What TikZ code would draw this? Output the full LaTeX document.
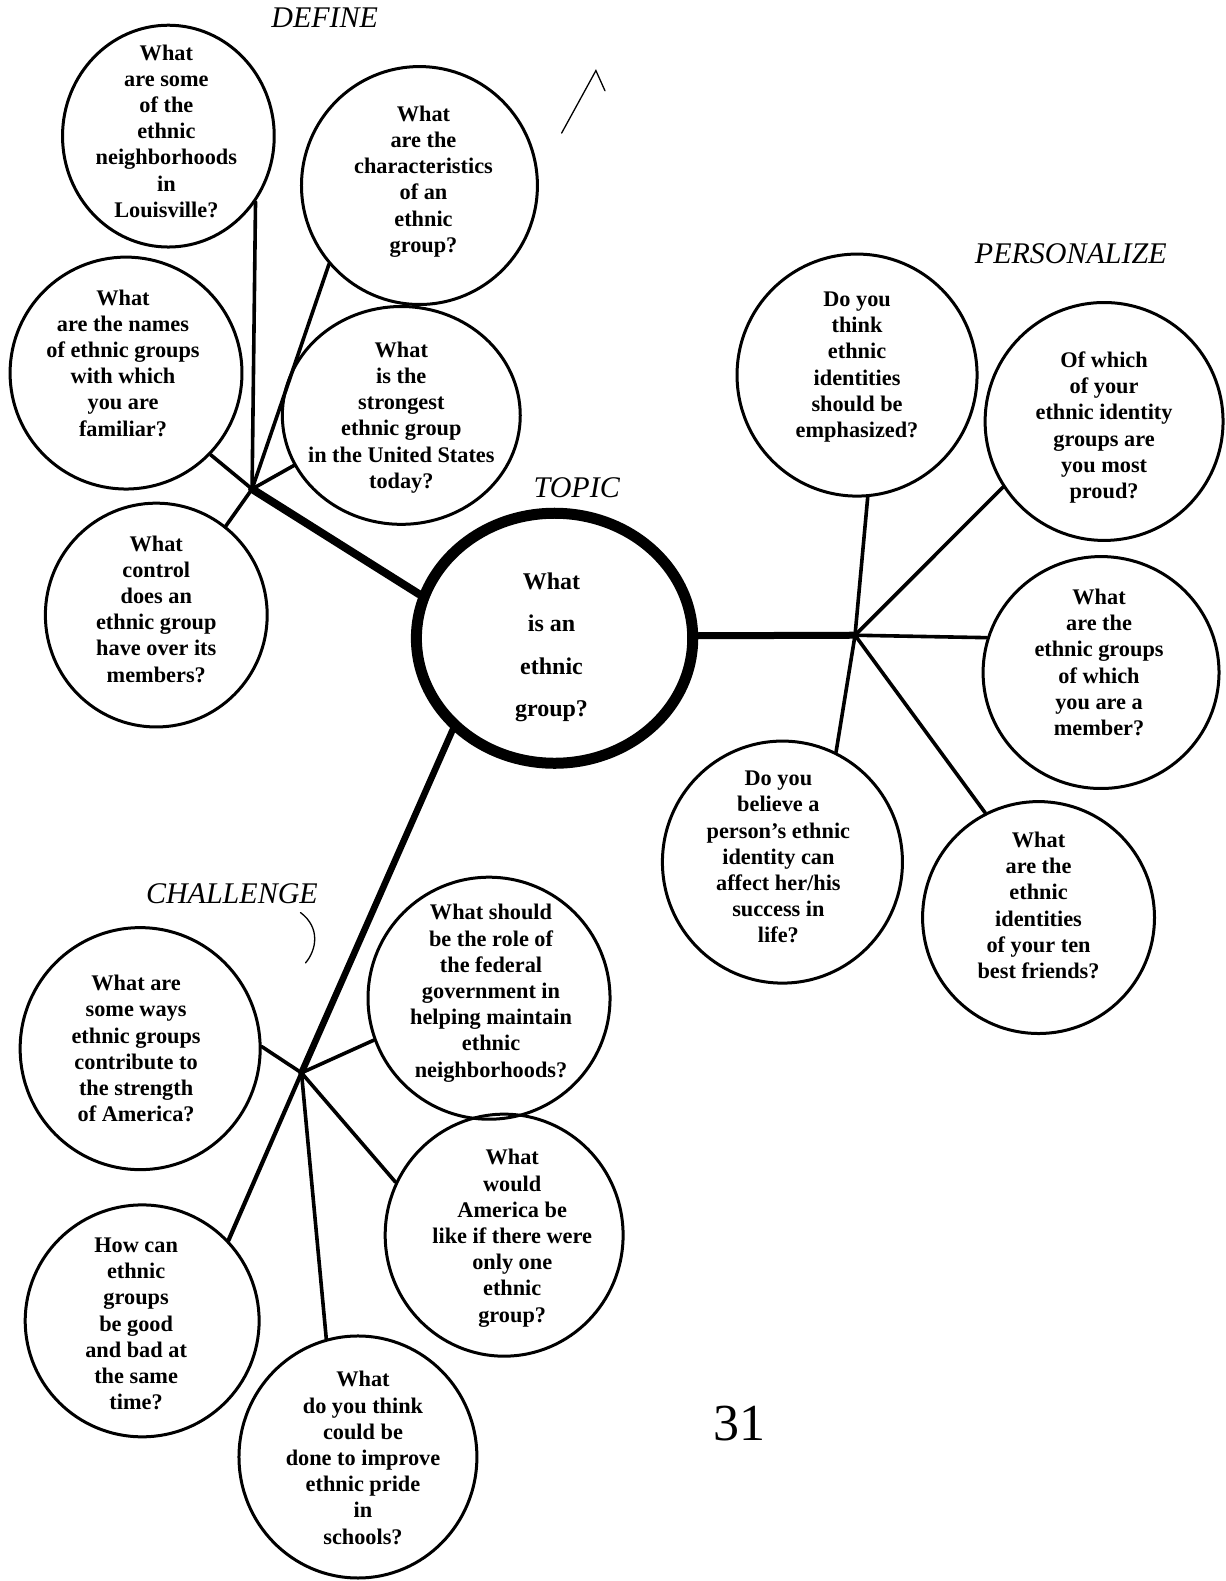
\documentclass[tikz,border=0pt]{standalone}
\usepackage{fontspec}
\setmainfont{Liberation Serif}
\usetikzlibrary{shapes.geometric}
\begin{document}
\begin{tikzpicture}[x=1.00823pt,y=-1.00823pt,
  bub/.style={draw,ellipse,line width=3pt,inner sep=0pt},
  topicbub/.style={draw,ellipse,line width=11pt,inner sep=0pt},
  qtext/.style={align=center,font=\bfseries\fontsize{22.3}{26.2}\selectfont,inner sep=0pt},
  ttext/.style={align=center,font=\bfseries\fontsize{24}{42.3}\selectfont,inner sep=0pt},
  lbl/.style={font=\itshape\fontsize{30}{36}\selectfont,inner sep=0pt},
  conn/.style={line width=3.6pt,line cap=round},
  thickconn/.style={line width=8pt,line cap=round},
  pencil/.style={line width=1.3pt,line cap=round}]
\useasboundingbox (0,0) rectangle (1215,1568);

% hubs
\coordinate (hD) at (250,485);
\coordinate (hP) at (848,630);
\coordinate (hC) at (299,1064);

% bubbles
\node[bub,minimum width=211.7pt,minimum height=221.8pt] (c1) at (167,135) {};
\node[bub,minimum width=235.9pt,minimum height=237.9pt] (c2) at (416,184) {};
\node[bub,minimum width=231.9pt,minimum height=231.9pt] (c3) at (125,370) {};
\node[bub,minimum width=237.9pt,minimum height=217.8pt] (c4) at (398,412) {};
\node[bub,minimum width=221.8pt,minimum height=223.8pt] (c5) at (155,610) {};
\node[topicbub,minimum width=276.3pt,minimum height=250.0pt] (T) at (550,633) {};
\node[bub,minimum width=240.0pt,minimum height=242.0pt] (c7) at (850,372) {};
\node[bub,minimum width=237.9pt,minimum height=237.9pt] (c8) at (1095,418) {};
\node[bub,minimum width=235.9pt,minimum height=231.9pt] (c9) at (1092,667) {};
\node[bub,minimum width=240.0pt,minimum height=242.0pt] (c10) at (776,855) {};
\node[bub,minimum width=231.9pt,minimum height=231.9pt] (c11) at (1030,910) {};
\node[bub,minimum width=242.0pt,minimum height=242.0pt] (c12) at (485,990) {};
\node[bub,minimum width=240.0pt,minimum height=242.0pt] (c13) at (139,1040) {};
\node[bub,minimum width=237.9pt,minimum height=242.0pt] (c14) at (500,1225) {};
\node[bub,minimum width=233.9pt,minimum height=231.9pt] (c15) at (141,1310) {};
\node[bub,minimum width=237.9pt,minimum height=242.0pt] (c16) at (355,1445) {};

% connectors: DEFINE
\draw[thickconn] (hD) -- (T.162);
\draw[conn] (hD) -- (c1.-37);
\draw[conn] (hD) -- (c2.221);
\draw[conn] (hD) -- (c3.-44);
\draw[conn] (hD) -- (c4.205);
\draw[conn] (hD) -- (c5.52);
% PERSONALIZE
\draw[line width=7pt,line cap=round] (T.1) -- (hP);
\draw[conn] (hP) -- (c7.-85);
\draw[conn] (hP) -- (c8.213);
\draw[conn] (hP) -- (c9.163);
\draw[conn] (hP) -- (c10.64);
\draw[conn] (hP) -- (c11.117);
% CHALLENGE
\draw[line width=6.5pt,line cap=round] (T.222) -- (hC);
\draw[line width=4.2pt,line cap=round] (hC) -- (c15.43);
\draw[conn] (hC) -- (c12.200);
\draw[conn] (hC) -- (c13.1);
\draw[conn] (hC) -- (c14.154);
\draw[conn] (hC) -- (c16.105);

% texts
\node[qtext] (t1) at (165,130) {What\\are some\\of the\\ethnic\\neighborhoods\\in\\Louisville?};
\node[qtext] (t2) at (420,180) {What\\are the\\characteristics\\of an\\ethnic\\group?};
\node[qtext] (t3) at (122,360) {What\\are the names\\of ethnic groups\\with which\\you are\\familiar?};
\node[qtext] (t4) at (398,414) {What\\is the\\strongest\\ethnic group\\in the United States\\today?};
\node[qtext] (t5) at (155,604) {What\\control\\does an\\ethnic group\\have over its\\members?};
\node[ttext] (tT) at (547,642) {What\\is an\\ethnic\\group?};
\node[qtext] (t7) at (850,364) {Do you\\think\\ethnic\\identities\\should be\\emphasized?};
\node[qtext] (t8) at (1095,424) {Of which\\of your\\ethnic identity\\groups are\\you most\\proud?};
\node[qtext] (t9) at (1090,657) {What\\are the\\ethnic groups\\of which\\you are a\\member?};
\node[qtext] (t10) at (772,850) {Do you\\believe a\\person's ethnic\\identity can\\affect her/his\\success in\\life?};
\node[qtext] (t11) at (1030,898) {What\\are the\\ethnic\\identities\\of your ten\\best friends?};
\node[qtext] (t12) at (487,985) {What should\\be the role of\\the federal\\government in\\helping maintain\\ethnic\\neighborhoods?};
\node[qtext] (t13) at (135,1040) {What are\\some ways\\ethnic groups\\contribute to\\the strength\\of America?};
\node[qtext] (t14) at (508,1228) {What\\would\\America be\\like if there were\\only one\\ethnic\\group?};
\node[qtext] (t15) at (135,1313) {How can\\ethnic\\groups\\be good\\and bad at\\the same\\time?};
\node[qtext] (t16) at (360,1446) {What\\do you think\\could be\\done to improve\\ethnic pride\\in\\schools?};

% labels
\node[lbl] (lD) at (322,18) {DEFINE};
\node[lbl] (lP) at (1062,252) {PERSONALIZE};
\node[lbl] (lT) at (572,484) {TOPIC};
\node[lbl] (lC) at (230,886) {CHALLENGE};
\node[font=\fontsize{52}{60}\selectfont,inner sep=0pt] (pg) at (733,1412) {31};

% pencil marks
\draw[pencil] (557,132) -- (591,70) -- (600,90);
\draw[pencil] (298,905) .. controls (318,920) and (314,942) .. (303,955);
\end{tikzpicture}
\end{document}
